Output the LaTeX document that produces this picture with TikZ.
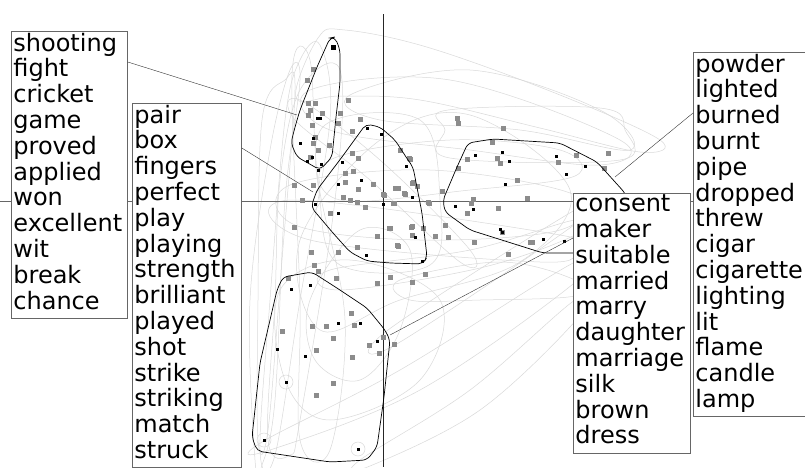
\documentclass[tikz,border=0pt]{standalone}
\usepackage{fontspec}
\setmainfont{DejaVu Sans}
\usepackage{tikz}
\usetikzlibrary{positioning}

\definecolor{ptgray}{HTML}{8C8C8C}
\definecolor{webgray}{HTML}{D9D9D9}

\tikzset{
  wordbox/.style={draw=black!60, fill=white, align=left, anchor=north west,
    inner xsep=2pt, inner ysep=1.5pt, line width=0.8pt,
    font=\fontsize{24}{25.8}\selectfont},
  hull/.style={draw=black, line width=0.7pt, rounded corners=5pt},
  web/.style={draw=webgray, line width=0.5pt},
  axis/.style={line width=0.8pt}
}

\begin{document}
\begin{tikzpicture}[x=1pt, y=-1pt]
    \useasboundingbox (0,0) rectangle (805,467);
    \clip (0,0) rectangle (805,467);
    \fill[white] (0,0) rectangle (805,467);

    % background links
    \foreach \pts in {
      {(296,98) (318,38) (345,30) (430,48) (560,95) (660,140) (640,152) (540,128) (420,100) (340,96)},
      {(300,60) (320,45) (330,120) (300,300) (275,455) (260,450) (270,300) (285,120)},
      {(280,180) (300,90) (340,70) (335,200) (300,420) (290,455) (268,440) (275,300)},
      {(448,110) (600,108) (625,130) (620,160) (450,158) (445,130)},
      {(262,442) (400,370) (575,262) (578,280) (420,390) (270,450)},
      {(360,460) (470,390) (575,300) (578,318) (480,410) (370,466)},
      {(325,125) (420,120) (440,200) (430,265) (340,265) (320,200)},
      {(290,185) (430,170) (575,195) (560,230) (420,240) (295,225)},
      {(300,240) (380,140) (470,115) (570,190) (520,262) (400,300) (320,330)},
      {(292,200) (560,235) (575,250) (540,262) (310,240)},
      {(310,90) (450,80) (620,140) (600,165) (470,150) (330,130)},
      {(280,290) (350,260) (440,300) (420,380) (330,420) (285,380)},
      {(255,460) (250,300) (270,150) (290,70) (300,80) (285,200) (275,400) (262,465)},
      {(330,270) (470,250) (575,220) (575,235) (480,268) (340,290)},
      {(388,330) (575,210) (578,222) (395,345)},
      {(300,100) (380,160) (470,250) (460,262) (370,180) (295,120)},
      {(262,120) (285,80) (295,90) (282,260) (268,430) (258,440) (258,300)},
      {(292,75) (310,60) (318,180) (345,320) (330,450) (300,440) (300,300)},
      {(330,160) (450,140) (560,150) (575,176) (470,190) (340,200)},
      {(400,280) (500,262) (575,280) (575,296) (480,300) (410,300)},
      {(310,300) (360,230) (410,250) (400,330) (360,380) (315,360)},
      {(350,95) (470,70) (600,110) (630,150) (520,130) (380,120)}}
      \draw[web] plot[smooth cycle, tension=0.6] coordinates \pts;
    \foreach \x/\y in {286/382, 264/440, 358/449}
      \draw[web] (\x,\y) circle (7);

    % axes
    \draw[axis, black!60] (0,201) -- (805,201);
    \draw[axis, black!85] (383,14) -- (383,467);

    % words
    \foreach \x/\y in {313/69, 307/80, 315/103, 308/103, 310/110, 322/113, 308/115,
      315/137, 313/143, 310/157, 329/145, 338/123, 340/113, 348/100, 312/125, 318/150,
      360/119, 352/131, 352/153, 358/158, 345/173, 353/171, 345/182, 358/189, 373/184,
      383/194, 398/188, 404/193, 412/183, 409/158, 400/150, 343/197, 350/200, 357/202,
      365/207, 330/213, 393/203, 389/228, 412/226, 423/228, 377/236, 398/246, 384/195,
      395/188, 405/194, 394/203, 410/159, 413/182, 417/186, 429/203, 390/228, 411/227,
      397/245, 412/235, 357/247, 338/252, 311/252, 294/227, 302/200, 313/185, 294/185,
      442/191, 428/202, 448/237, 435/236, 445/225, 458/168, 467/159, 497/158, 500/163,
      503/128, 458/123, 457/118, 492/142, 517/180, 527/198, 473/199, 471/203, 467/213,
      498/208, 530/242, 474/242, 502/232, 532/242, 508/254, 558/162, 576/155, 608/153,
      604/168, 314/265, 318/271, 336/278, 288/278, 390/277, 412/282, 425/274, 377/283,
      351/313, 282/331, 312/326, 326/326, 354/325, 333/338, 369/345, 383/337, 394/344,
      379/353, 316/350, 352/357, 333/383, 316/395}
      \fill[ptgray] (\x-2.5,\y-2.5) rectangle (\x+2.5,\y+2.5);
    \foreach \x/\y in {320/118, 317/118, 313/138, 312/157, 300/143, 318/170, 321/164,
      307/161, 367/128, 381/134, 406/166, 342/162, 338/184, 361/180, 412/197, 315/204,
      338/213, 383/204, 415/237, 475/155, 502/152, 509/161, 505/184, 556/156, 566/174,
      585/166, 455/206, 473/209, 500/229, 502/232, 543/239, 564/241, 366/255, 422/261,
      291/289, 310/285, 338/323, 360/323, 377/341, 277/349, 305/356, 286/382, 264/440,
      358/449}
      \fill[black] (\x-1.5,\y-1.5) rectangle (\x+1.5,\y+1.5);
    \fill[black] (330.5,44.5) rectangle (335.5,49.5);

    % clusters
    \draw[hull] (335,37) -- (340,50) -- (340,83) -- (336,117) -- (332,157) -- (320,170)
      -- (308,163) -- (297,157) -- (291,143) -- (295,127) -- (300,110) -- (317,67)
      -- (330,38) -- cycle;
    \draw[hull] (366,124) -- (380,127) -- (395,140) -- (408,160) -- (413,167)
      -- (422,213) -- (427,257) -- (423,264) -- (390,263) -- (367,261) -- (350,252)
      -- (333,233) -- (311,207) -- (317,190) -- (342,157) -- cycle;
    \draw[hull] (468,143) -- (493,139) -- (560,143) -- (597,162) -- (625,193)
      -- (640,230) -- (620,253) -- (572,253) -- (543,253) -- (470,230) -- (445,212)
      -- (443,200) -- (457,167) -- cycle;
    \draw[hull] (283,277) -- (312,272) -- (340,290) -- (367,308) -- (385,330)
      -- (390,340) -- (384,397) -- (377,447) -- (367,460) -- (330,462) -- (257,451)
      -- (252,437) -- (260,363) -- (277,290) -- cycle;

    \coordinate (fight) at (297,115);
    \coordinate (play) at (313,192);
    \coordinate (smoke) at (615,177);
    \coordinate (wed) at (390,335);

    % word lists
    \node[wordbox, text width=112pt] (sport) at (11,31)
      {shooting\\fight\\cricket\\game\\proved\\applied\\won\\excellent\\wit\\break\\chance\strut};
    \node[wordbox, text width=105pt] (game) at (132,103)
      {pair\\box\\fingers\\perfect\\play\\playing\\strength\\brilliant\\played\\shot\\strike\\striking\\match\\struck\strut};
    \node[wordbox, text width=113pt] (marry) at (573,193)
      {consent\\maker\\suitable\\married\\marry\\daughter\\marriage\\silk\\brown\\dress\strut};
    \node[wordbox, text width=114pt] (fire) at (693,52)
      {powder\\lighted\\burned\\burnt\\pipe\\dropped\\threw\\cigar\\cigarette\\lighting\\lit\\flame\\candle\\lamp\strut};

    % leaders
    \draw[black!80] ([yshift=-31pt]sport.north east) -- (fight);
    \draw[black!80] ([yshift=-45pt]game.north east) -- (play);
    \draw[black!80] ([yshift=-45pt]marry.north west) -- (wed);
    \draw[black!80] ([yshift=-61pt]fire.north west) -- (smoke);
\end{tikzpicture}
\end{document}
